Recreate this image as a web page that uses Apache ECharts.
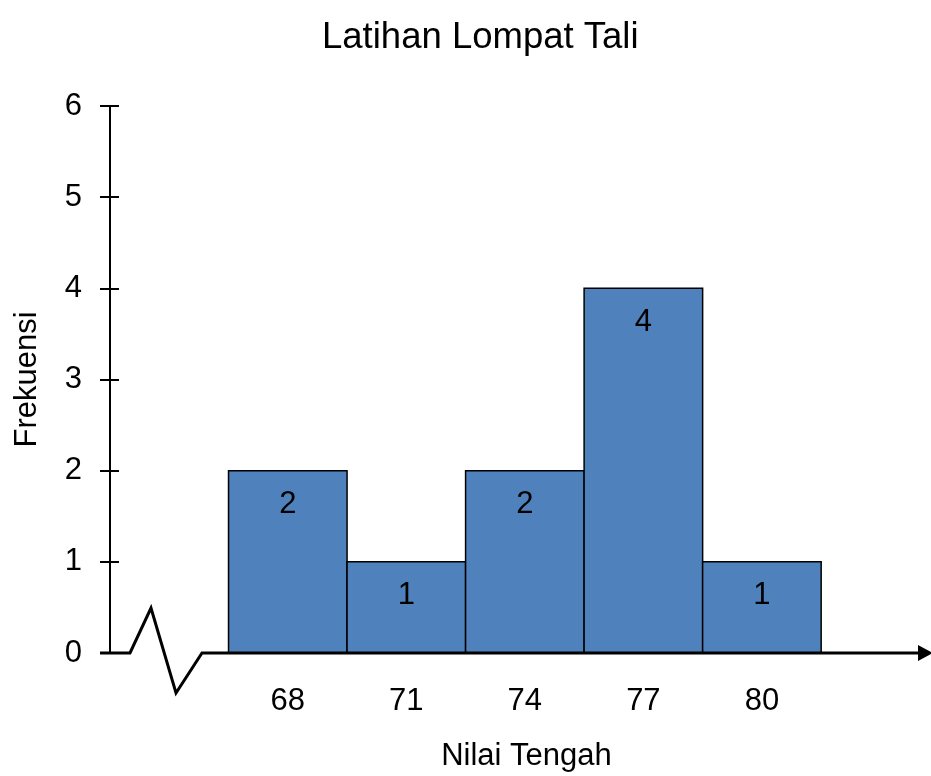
<!DOCTYPE html>
<html><head><meta charset="utf-8">
<script src="https://cdn.jsdelivr.net/npm/echarts@6/dist/echarts.min.js"></script>
<style>html,body{margin:0;padding:0;background:#fff}#c{width:931px;height:776px}</style>
</head><body><div id="c"></div>
<script>
const titleText = 'Latihan Lompat Tali';
const midpoints = [68, 71, 74, 77, 80];
const frequencies = [2, 1, 2, 4, 1];
const classWidth = 3;
const yTicks = [0, 1, 2, 3, 4, 5, 6];
const xName = 'Nilai Tengah';
const yName = 'Frekuensi';

const font = 'Liberation Sans, Arial, sans-serif';
const chart = echarts.init(document.getElementById('c'));
const data = midpoints.map((m, i) => [m, frequencies[i]]);
chart.setOption({
  animation: false,
  title: { text: titleText, left: 317, top: 14, textStyle: { fontFamily: font, fontSize: 36.5, fontWeight: 'normal', color: '#000' } },
  grid: { left: 110, right: 0, top: 106, bottom: 123, containLabel: false, outerBoundsMode: 'none' },
  xAxis: {
    type: 'value', min: 63.5, max: 84.28,
    axisLine: { show: false }, axisTick: { show: false }, splitLine: { show: false },
    axisLabel: { customValues: midpoints, margin: 33, fontFamily: font, fontSize: 31, color: '#000' },
    name: xName, nameLocation: 'middle', nameGap: 88,
    nameTextStyle: { fontFamily: font, fontSize: 31, color: '#000', padding: [0, 0, 0, 12] }
  },
  yAxis: [{
    type: 'value', min: 0, max: 6, interval: 1,
    axisLine: { show: true, lineStyle: { color: '#000', width: 2 } },
    axisTick: { show: true, length: 10, lineStyle: { color: '#000', width: 2 } },
    splitLine: { show: false },
    axisLabel: { margin: 28, fontFamily: font, fontSize: 31, color: '#000', padding: [5, 0, 0, 0] },
    name: yName, nameLocation: 'middle', nameGap: 83,
    nameTextStyle: { fontFamily: font, fontSize: 31, color: '#000', verticalAlign: 'middle', padding: [0, 0, 0, 0] }
  }, {
    type: 'value', min: 0, max: 6, interval: 1, position: 'left',
    axisLine: { show: false },
    axisTick: { show: true, inside: true, length: 9, lineStyle: { color: '#000', width: 2 } },
    splitLine: { show: false }, axisLabel: { show: false }
  }],
  series: [{
    type: 'custom',
    renderItem: function (params, api) {
      const x = api.value(0), y = api.value(1);
      const p0 = api.coord([x - classWidth / 2, y]);
      const p1 = api.coord([x + classWidth / 2, 0]);
      return {
        type: 'rect',
        shape: { x: p0[0], y: p0[1], width: p1[0] - p0[0], height: p1[1] - p0[1] },
        style: { fill: '#4F81BD', stroke: '#000', lineWidth: 1.5 }
      };
    },
    data: data
  }, {
    type: 'custom',
    renderItem: function (params, api) {
      const x = api.value(0), y = api.value(1);
      const p = api.coord([x, y]);
      return {
        type: 'text',
        style: { text: String(y), x: p[0], y: p[1] + 34, align: 'center', verticalAlign: 'middle', font: '31px ' + font, fill: '#000' }
      };
    },
    data: data, z: 5
  }]
});

const o = chart.convertToPixel({ gridIndex: 0 }, [63.5, 0]);
const ox = o[0], oy = o[1];
chart.setOption({
  graphic: [{
    type: 'polyline', z: 10,
    shape: { points: [[ox - 10, oy], [ox + 20, oy], [ox + 41, oy - 45], [ox + 66, oy + 40], [ox + 92, oy], [920, oy]] },
    style: { stroke: '#000', lineWidth: 3, fill: null }
  }, {
    type: 'polygon', z: 10,
    shape: { points: [[918, oy - 8], [933, oy], [918, oy + 8]] },
    style: { fill: '#000' }
  }]
});
</script></body></html>
